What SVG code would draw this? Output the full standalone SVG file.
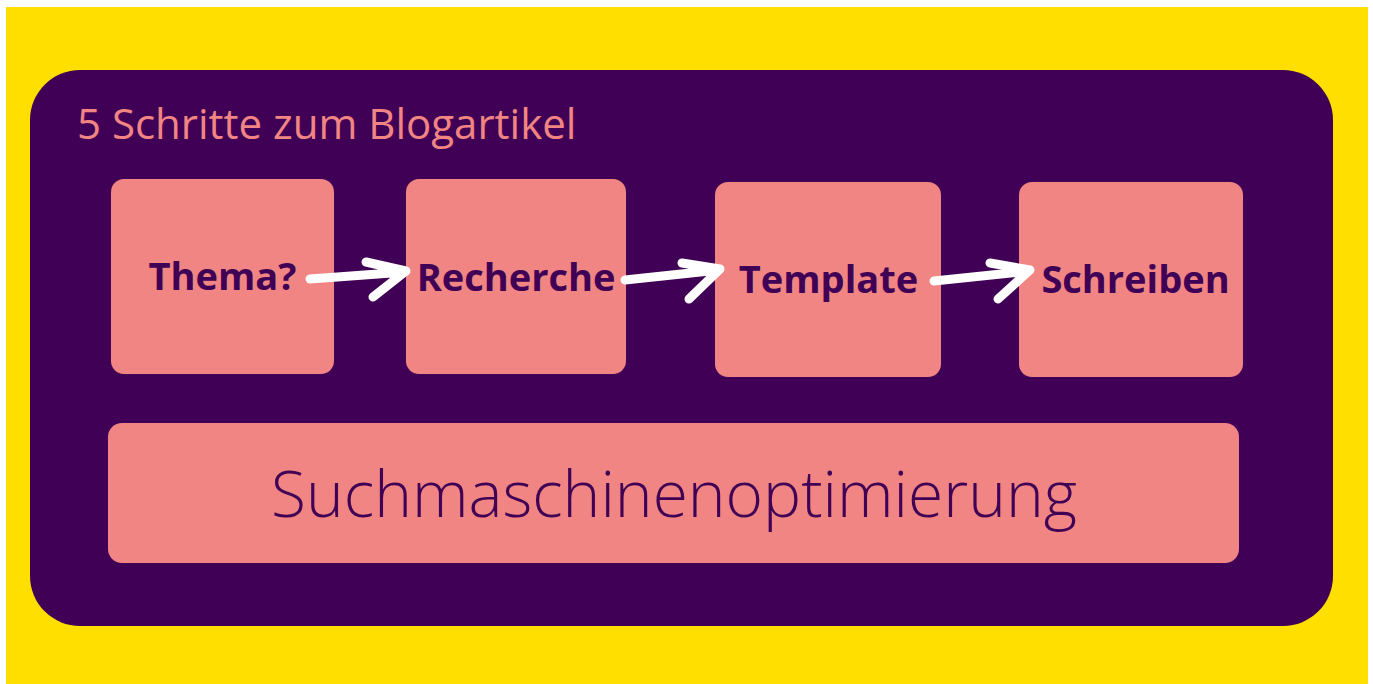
<svg xmlns="http://www.w3.org/2000/svg" width="1373" height="684" viewBox="0 0 1373 684">
  <style>
    .card { fill: #F08583; }
    .lbl { font-family: "Open Sans", "Liberation Sans", sans-serif; font-weight: 700; font-size: 38px; fill: #400055; text-anchor: middle; }
    .arrow { fill: none; stroke: #FFFFFF; stroke-width: 9; stroke-linecap: round; stroke-linejoin: round; }
  </style>
  <rect x="0" y="0" width="1373" height="684" fill="#FFFFFF"/>
  <rect x="6" y="7" width="1362" height="677" fill="#FFDF00"/>
  <g id="panel">
    <rect x="30" y="70" width="1303" height="556" rx="50" ry="50" fill="#400055"/>
    <text x="77" y="139" font-family="'Open Sans', 'Liberation Sans', sans-serif" font-size="42" fill="#F08583">5 Schritte zum Blogartikel</text>
  </g>
  <g id="node-thema">
    <rect class="card" x="111" y="179" width="223" height="195" rx="13"/>
    <text class="lbl" x="222.5" y="290">Thema?</text>
  </g>
  <g id="node-recherche">
    <rect class="card" x="406" y="179" width="220" height="195" rx="13"/>
    <text class="lbl" x="516" y="291">Recherche</text>
  </g>
  <g id="node-template">
    <rect class="card" x="715" y="182" width="226" height="195" rx="13"/>
    <text class="lbl" x="828.5" y="293">Template</text>
  </g>
  <g id="node-schreiben">
    <rect class="card" x="1019" y="182" width="224" height="195" rx="13"/>
    <text class="lbl" x="1135.5" y="293">Schreiben</text>
  </g>
  <g id="node-seo">
    <rect class="card" x="108" y="423" width="1131" height="140" rx="14"/>
    <text x="674" y="517" font-family="'Open Sans', 'Liberation Sans', sans-serif" font-weight="300" font-size="64" fill="#400055" text-anchor="middle">Suchmaschinenoptimierung</text>
  </g>
  <g id="connectors">
    <path class="arrow" d="M310 279 L405 272 M366 262 L406 271 L373 297"/>
    <path class="arrow" d="M625 280 L719 270 M682 263 L720 269 L689 299"/>
    <path class="arrow" d="M934 281 L1029 271 M990 263 L1030 270 L998 299"/>
  </g>
</svg>
